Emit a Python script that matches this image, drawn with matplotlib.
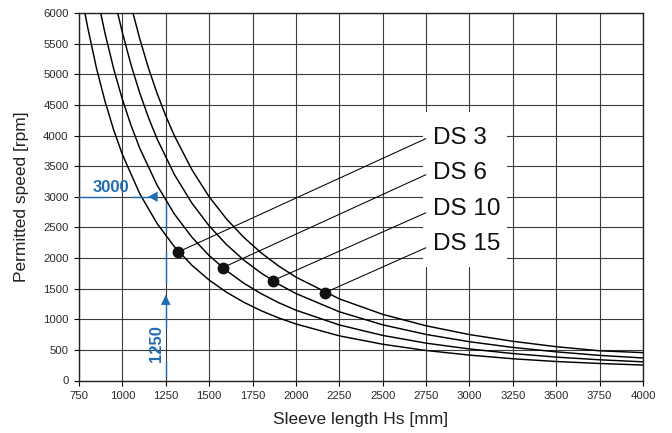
import matplotlib
matplotlib.use("Agg")
import matplotlib.pyplot as plt
from matplotlib.patches import Rectangle

plt.rcParams['font.family'] = ['Liberation Sans', 'DejaVu Sans']

# ---- data ----
L_ds3 = [784, 800, 850, 900, 950, 1000, 1100, 1200, 1300, 1400, 1500, 1600, 1700,
         1800, 1900, 2000, 2250, 2500, 2750, 3000, 3250, 3500, 3750, 4000]
n_ds3 = [6000, 5766, 5107, 4556, 4089, 3690, 3050, 2563, 2183, 1883, 1640, 1441, 1277,
         1139, 1022, 923, 729, 592, 490, 415, 355, 310, 278, 252]

L_ds6 = [875, 900, 950, 1000, 1050, 1100, 1200, 1300, 1400, 1500, 1600, 1700, 1800,
         1900, 2000, 2250, 2500, 2750, 3000, 3250, 3500, 3750, 4000]
n_ds6 = [6000, 5667, 5086, 4590, 4163, 3793, 3188, 2716, 2342, 2040, 1793, 1588, 1417,
         1271, 1148, 907, 736, 610, 515, 440, 382, 338, 305]

L_ds10 = [973, 1000, 1050, 1100, 1150, 1200, 1300, 1400, 1500, 1600, 1700, 1800, 1900,
          2000, 2250, 2500, 2750, 3000, 3250, 3500, 3750, 4000]
n_ds10 = [6000, 5680, 5152, 4694, 4295, 3944, 3361, 2898, 2524, 2219, 1965, 1753, 1573,
          1420, 1122, 909, 752, 633, 540, 468, 410, 368]

L_ds15 = [1061, 1100, 1150, 1200, 1250, 1300, 1400, 1500, 1600, 1700, 1800, 1900, 2000,
          2250, 2500, 2750, 3000, 3250, 3500, 3750, 4000]
n_ds15 = [6000, 5579, 5104, 4688, 4320, 3994, 3444, 3000, 2637, 2336, 2083, 1870, 1688,
          1333, 1080, 893, 750, 640, 552, 485, 455]

labels = ["DS 3", "DS 6", "DS 10", "DS 15"]
dot_L = [1323, 1578, 1867, 2168]
dot_n = [2100, 1842, 1630, 1435]
label_n = [3965, 3393, 2804, 2232]
leader_end_n = [3948, 3359, 2737, 2166]
label_L = 2790
leader_end_L = 2748

xticks = list(range(750, 4001, 250))
yticks = list(range(0, 6001, 500))

ref_speed = 3000
ref_length = 1250

blue = '#1f6db0'

fig = plt.figure(figsize=(6.72, 4.33), dpi=100)
ax = fig.add_axes([79/672, 1 - 380.5/433, (643 - 79)/672, (380.5 - 13)/433])

ax.set_xlim(750, 4000)
ax.set_ylim(0, 6000)
ax.set_xticks(xticks)
ax.set_yticks(yticks)
ax.tick_params(direction='out', length=3.5, width=0.8, labelsize=8.2, colors='black',
               pad=4)
for lbl in ax.get_xticklabels() + ax.get_yticklabels():
    lbl.set_color('#2a2a2a')
ax.set_axisbelow(True)
ax.grid(True, color='#3a3a3a', lw=0.8)
for s in ax.spines.values():
    s.set_color('#222222')
    s.set_linewidth(1.0)

# white box behind labels
ax.add_patch(Rectangle((2735, 1860), 3215 - 2735, 4380 - 1860, facecolor='white',
                       edgecolor='none', zorder=1))

for L, n in [(L_ds3, n_ds3), (L_ds6, n_ds6), (L_ds10, n_ds10), (L_ds15, n_ds15)]:
    ax.plot(L, n, color='black', lw=1.05, zorder=3, clip_on=True)

for i in range(4):
    ax.plot([dot_L[i], leader_end_L], [dot_n[i], leader_end_n[i]], color='black',
            lw=0.75, zorder=3)
    ax.text(label_L, label_n[i], labels[i], fontsize=17.5, va='center', ha='left',
            color='#111111', zorder=4)
ax.plot(dot_L, dot_n, 'o', color='#111111', ms=7.5, zorder=5)

# blue reference annotations
ax.plot([750, 924], [ref_speed, ref_speed], color=blue, lw=1.0, zorder=4, clip_on=False)
ax.plot([1057, 1150], [ref_speed, ref_speed], color=blue, lw=1.0, zorder=4)
ax.fill([1149, 1203, 1203], [ref_speed, ref_speed + 85, ref_speed - 85], color=blue,
        zorder=4, lw=0)
ax.text(932, 3150, "3000", color=blue, fontsize=12, fontweight='bold',
        ha='center', va='center', zorder=4)

for a, b in [(2460, 2890), (1610, 2100), (875, 1240), (55, 300)]:
    ax.plot([ref_length, ref_length], [a, b], color=blue, lw=1.0, zorder=4)
ax.fill([ref_length - 28, ref_length, ref_length + 28], [1234, 1400, 1234], color=blue,
        zorder=4, lw=0)
ax.text(1195, 597, "1250", color=blue, fontsize=12, fontweight='bold', rotation=90,
        ha='center', va='center', zorder=4)

ax.set_xlabel("Sleeve length Hs [mm]", fontsize=12.5, color='#222222', labelpad=8)
ax.set_ylabel("Permitted speed [rpm]", fontsize=12.5, color='#222222', labelpad=10)

fig.savefig("out.png", dpi=100)
